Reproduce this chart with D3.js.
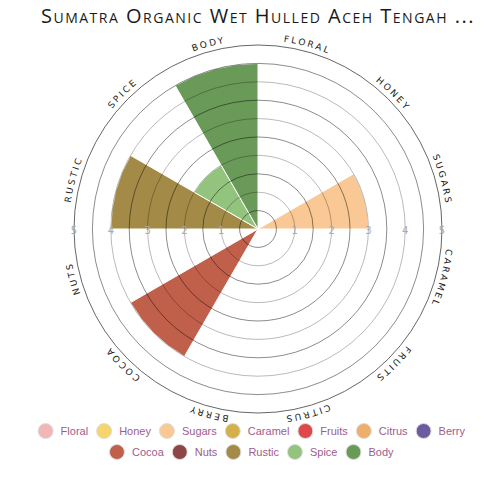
<!DOCTYPE html>
<html>
<head>
<meta charset="utf-8">
<title>Flavor wheel</title>
<script src="https://d3js.org/d3.v7.min.js"></script>
<style>
    body { margin: 0; background: #fff; }
    svg { display: block; }
</style>
</head>
<body>
<div id="chart"></div>
<script>
    var title = "Sumatra Organic Wet Hulled Aceh Tengah ...";

    var categories = ["Floral", "Honey", "Sugars", "Caramel", "Fruits", "Citrus",
                      "Berry", "Cocoa", "Nuts", "Rustic", "Spice", "Body"];
    var scores = [0, 0, 3, 0, 0, 0, 0, 4, 0, 4, 2, 4.5];
    var colors = ["#f2b6b6", "#f5d56c", "#f9c894", "#d4b04a", "#df4848", "#eeae6c",
                  "#6b5b9f", "#c0604a", "#8c4646", "#a38b47", "#93c47d", "#6a9a58"];
    var tickLabels = [1, 2, 3, 4, 5];
    var maxScore = 5;

    var width = 489, height = 487;
    var cx = 258, cy = 229, radius = 184;

    var svg = d3.select("#chart").append("svg")
        .attr("width", width)
        .attr("height", height);

    svg.append("text")
        .attr("x", cx)
        .attr("y", 23)
        .attr("text-anchor", "middle")
        .style("font-family", "'Open Sans', sans-serif")
        .style("font-variant", "small-caps")
        .style("font-size", "20px")
        .style("letter-spacing", "1.5px")
        .style("fill", "#1a1a1a")
        .text(title);

    var r = d3.scaleLinear().domain([0, maxScore]).range([0, radius]);
    var angle = d3.scaleBand().domain(categories).range([0, 2 * Math.PI]);

    var g = svg.append("g").attr("transform", "translate(" + cx + "," + cy + ")");

    var arc = d3.arc()
        .innerRadius(0)
        .outerRadius(function(d) { return r(d.value); })
        .startAngle(function(d) { return angle(d.name); })
        .endAngle(function(d) { return angle(d.name) + angle.bandwidth(); });

    var slices = categories.map(function(c, i) {
        return {name: c, value: scores[i], color: colors[i]};
    });

    g.selectAll(".slice")
        .data(slices.filter(function(d) { return d.value > 0; }))
      .enter().append("path")
        .attr("class", "slice")
        .attr("d", arc)
        .style("fill", function(d) { return d.color; })
        .style("stroke", "#fff")
        .style("stroke-width", 1);

    // rings every half point
    g.selectAll(".ring")
        .data(r.ticks(10).filter(function(v) { return v > 0; }))
      .enter().append("circle")
        .attr("class", "ring")
        .attr("r", function(v) { return r(v); })
        .style("fill", "none")
        .style("stroke", function(v) { return v === maxScore ? "#555" : "#000"; })
        .style("stroke-opacity", function(v) { return v === maxScore ? 1 : (v % 1 ? 0.5 : 0.3); })
        .style("stroke-width", 0.9);

    // scale numbers on both sides
    [-1, 1].forEach(function(side) {
        g.selectAll(".tick" + side)
            .data(tickLabels)
          .enter().append("text")
            .attr("x", function(v) { return side * r(v); })
            .attr("y", 4.5)
            .attr("text-anchor", "middle")
            .style("font-family", "'DejaVu Sans', sans-serif")
            .style("font-size", "10px")
            .style("fill", "#aaa")
            .text(function(v) { return v; });
    });

    // category names along a clockwise circle
    var labelR = radius + 5;
    g.append("path")
        .attr("id", "labelPath")
        .attr("d", "M0," + (-labelR) +
                   " A" + labelR + "," + labelR + " 0 1,1 0," + labelR +
                   " A" + labelR + "," + labelR + " 0 1,1 0," + (-labelR))
        .style("fill", "none");

    var circumference = 2 * Math.PI * labelR;
    g.selectAll(".catLabel")
        .data(categories)
      .enter().append("text")
        .attr("class", "catLabel")
        .style("font-family", "'DejaVu Sans', sans-serif")
        .style("font-size", "9px")
        .style("letter-spacing", "2.3px")
        .style("fill", "#222")
      .append("textPath")
        .attr("href", "#labelPath")
        .attr("startOffset", function(c) {
            return ((angle(c) + angle.bandwidth() / 2) / (2 * Math.PI)) * circumference;
        })
        .attr("text-anchor", "middle")
        .text(function(c) { return c.toUpperCase(); });

    // legend
    var legendRows = [categories.slice(0, 7), categories.slice(7)];
    var legendY = [431, 452];
    var legendCenter = 251.5;

    legendRows.forEach(function(row, ri) {
        var lg = svg.append("g");
        var x = 7.5;
        row.forEach(function(c) {
            var item = lg.append("g").attr("transform", "translate(" + x + "," + legendY[ri] + ")");
            item.append("circle")
                .attr("r", 7.5)
                .style("fill", colors[categories.indexOf(c)])
                .style("stroke", "#ddd")
                .style("stroke-width", 1);
            var t = item.append("text")
                .attr("x", 15)
                .attr("y", 4)
                .style("font-family", "'Liberation Sans', Arial, sans-serif")
                .style("font-size", "11px")
                .style("fill", "#9e5c8d")
                .text(c);
            x += 15 + t.node().getComputedTextLength() + 16;
        });
        var rowWidth = x - 16;
        lg.attr("transform", "translate(" + (legendCenter - rowWidth / 2) + ",0)");
    });
</script>
</body>
</html>
